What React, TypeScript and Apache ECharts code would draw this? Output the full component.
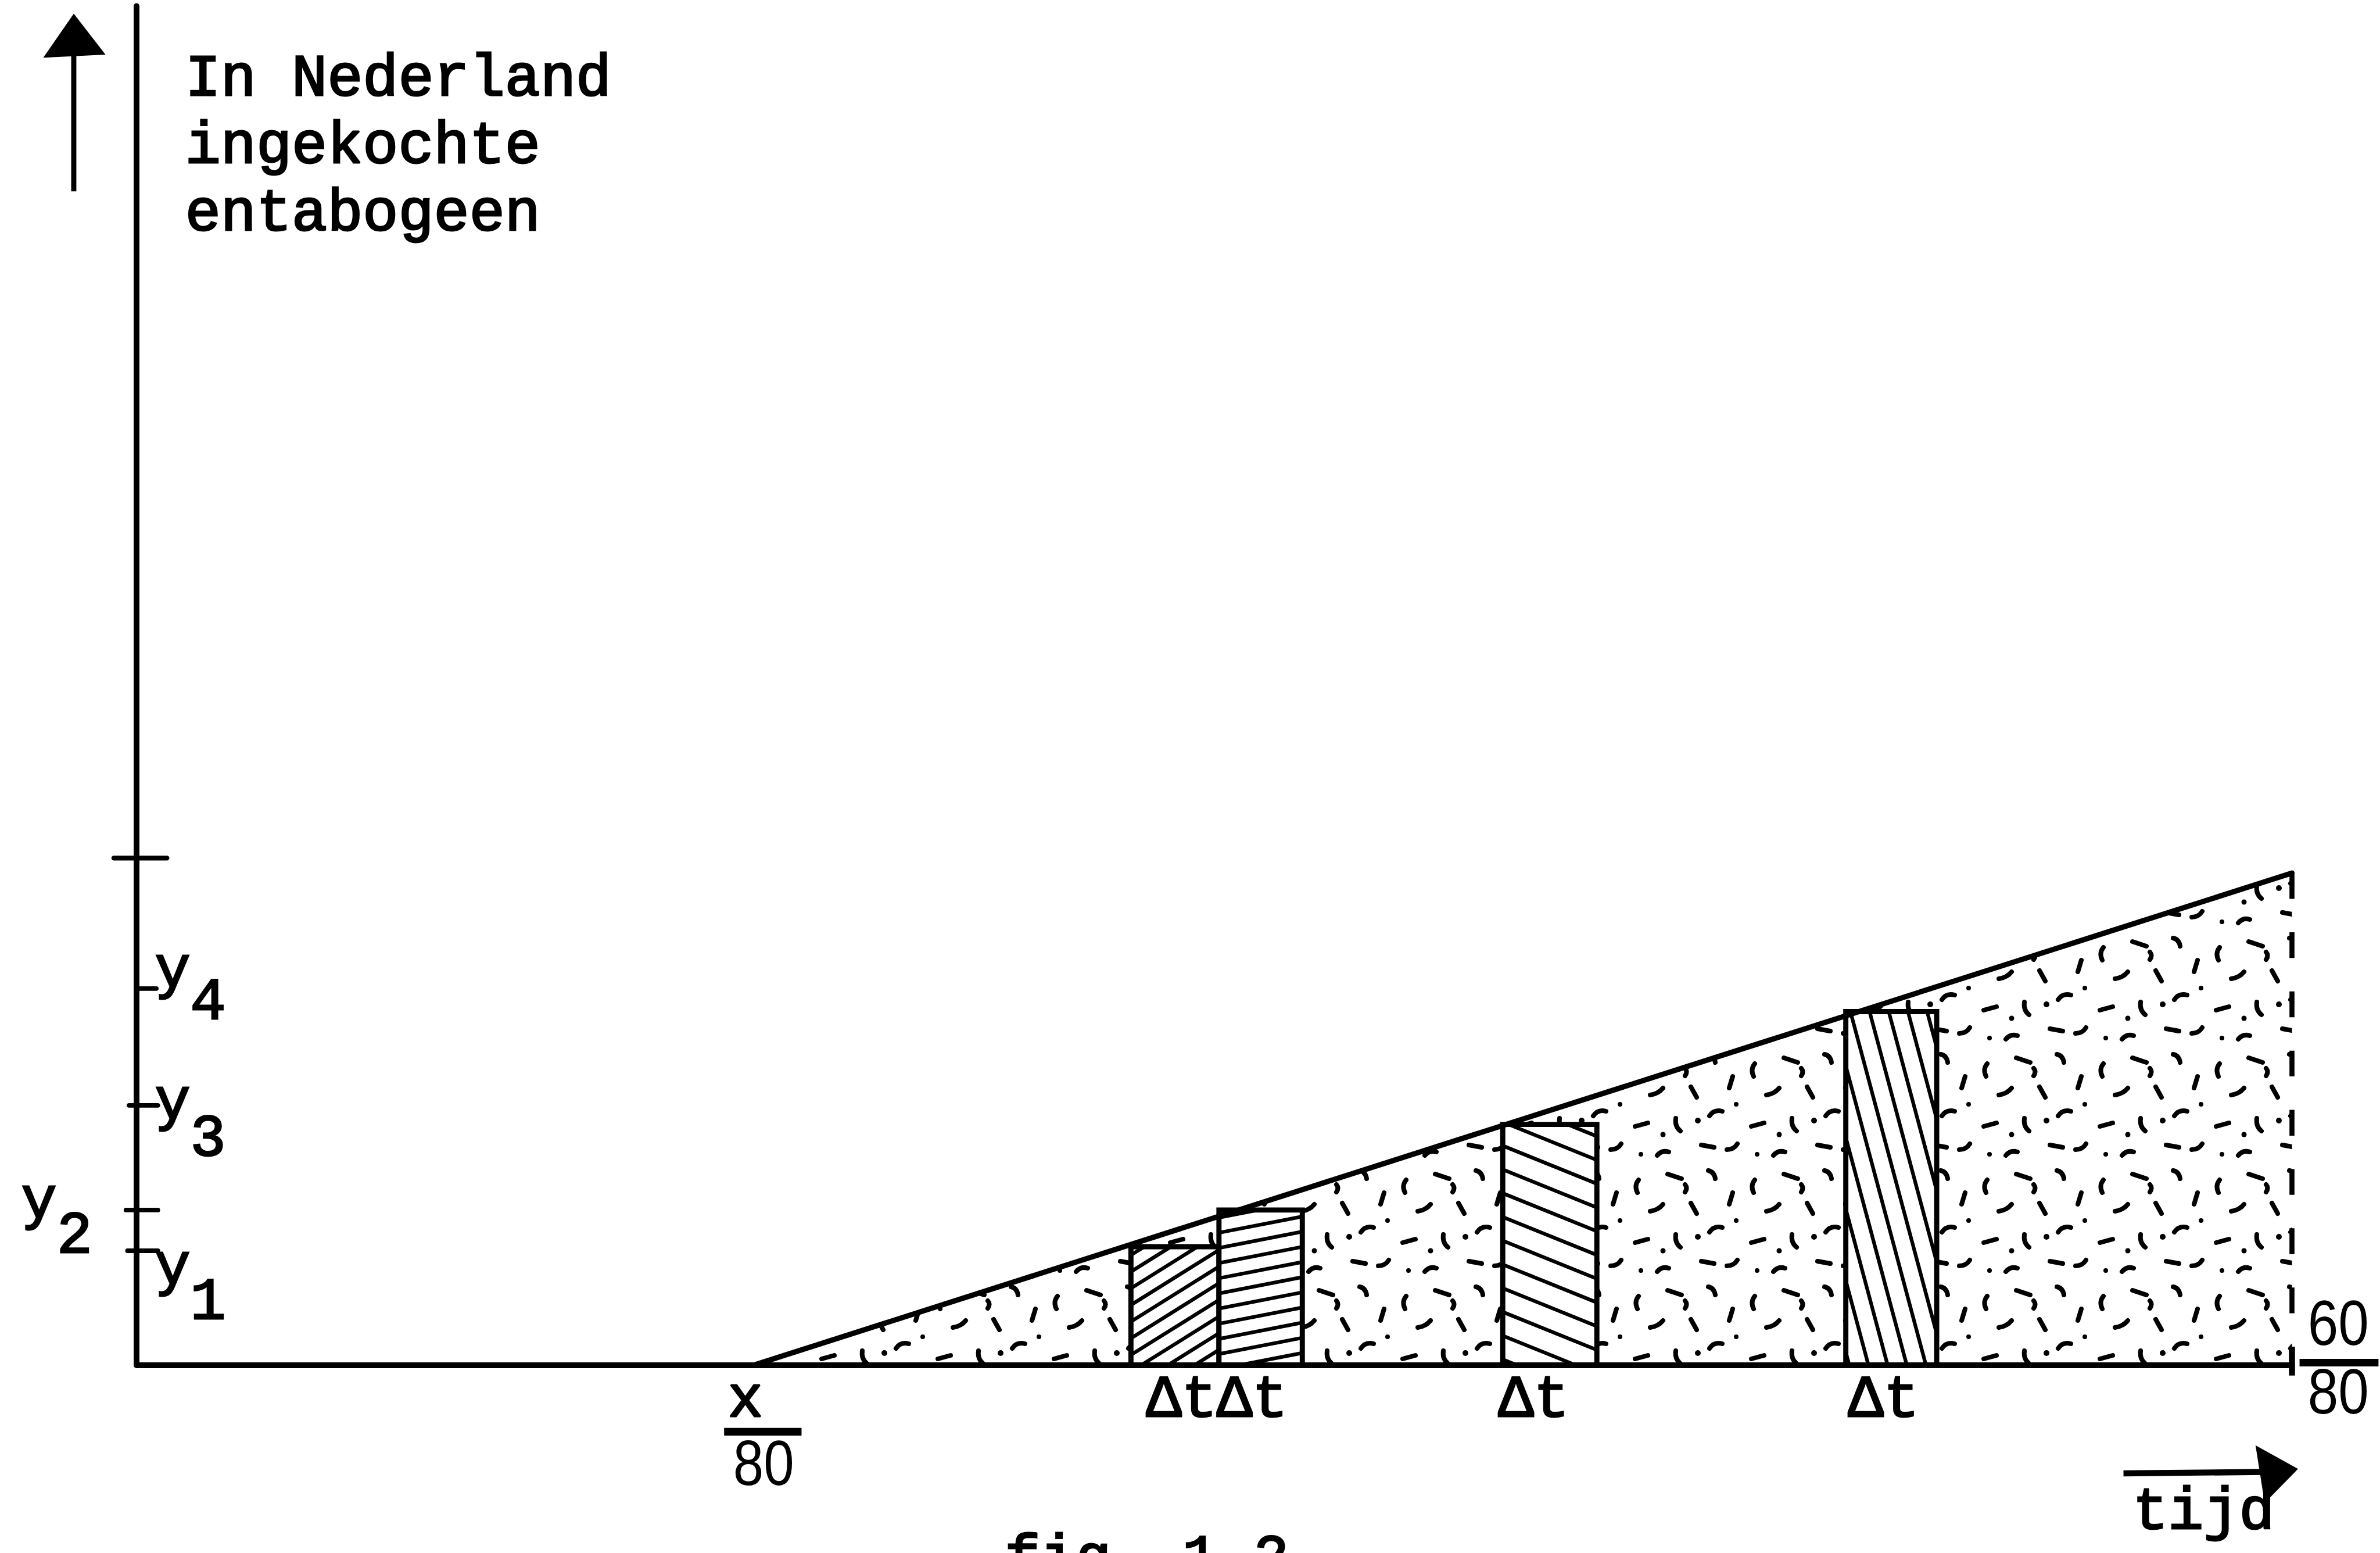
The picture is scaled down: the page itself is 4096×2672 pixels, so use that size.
import React, { useEffect, useRef } from 'react';
import * as echarts from 'echarts';

// Tijd in tachtigsten (0 .. 60/80), hoogte in vrije eenheden
const tijdMin = 0;
const tijdMax = 60;
const hoogteMin = 0;
const hoogteMax = 100;

// Rechte lijn van x/80 tot 60/80
const lijnTijd = [17.2, 60];
const lijnHoogte = [0, 36.2];

// Staafjes met breedte Δt onder de lijn
const staafBegin = [27.68, 30.13, 38.03, 47.58];
const staafEind = [30.13, 32.45, 40.65, 50.11];
const staafHoogte = [8.7, 11.4, 17.7, 26.0];
const staafLabel = ['Δt', 'Δt', 'Δt', 'Δt'];

// Streepjes y1..y4 op de verticale as en het bovenste streepje
const yNiveau = [8.4, 11.4, 19.1, 27.7];
const yIndex = ['1', '2', '3', '4'];
const bovensteNiveau = 37.3;

const asTitel = ['In Nederland', 'ingekochte', 'entabogeen'];
const beginBreuk = ['x', '80'];
const eindBreuk = ['60', '80'];
const tijdTekst = 'tijd';
const onderschrift = 'fig. 1.2';

// ---- opmaak ----
const W = 4096;
const H = 2672;
const U = W / 1568; // px per layout unit
const u = (v: number) => v * U;
const INK = '#000000';
const MONO = '"Liberation Mono", "DejaVu Sans Mono", monospace';
const SANS = '"Liberation Sans", "DejaVu Sans", sans-serif';
const TYPE_FS = u(39);
const TYPE_ADV = 23.4; // typewriter cell width in units
const DIGIT_FS = u(42);
const DIGIT_SQUEEZE = 0.86;
const AXIS_W = u(3.8);
const LINE_W = u(3.5);
const BAR_W = u(3.4);
const HATCH_W = u(2.4);

// arcering per staaf: hoek (graden, positief = stijgend) en afstand (units)
const arcering = [
  { hoek: 32, afstand: 9.3 },
  { hoek: 11, afstand: 9.8 },
  { hoek: -22, afstand: 14.5 },
  { hoek: -75, afstand: 12.2 },
];
const labelVerschuiving = [10, -1.5, -3, 1.5];
const yStreepLengte = [
  [-6, 14],
  [-7, 14],
  [-5, 14],
  [0, 13],
];
const yLabelPlaats = [
  { x: 12, yBase: 22, sBase: 45 },
  { x: -76, yBase: 5, sBase: 28 },
  { x: 12, yBase: 9, sBase: 33 },
  { x: 12, yBase: -1, sBase: 20 },
];

// stippels voor het driehoekige vlak
const TILE = 200;
const stippelStreepjes = [
  'M20 30q-8 10-2 22',
  'M70 20l24 8',
  'M140 14q10 2 12 14',
  'M182 52l-6 20',
  'M40 84q14-2 22-12',
  'M110 70l10 18',
  'M164 112q-14-4-22 8',
  'M14 138l22-6',
  'M84 124q-2 14 8 22',
  'M128 170l22 4',
  'M190 168q-6 10-18 10',
  'M52 188q8-10 20-6',
  'M100 38q5 6 0 13',
];
const stippelPunten = [
  [122, 128, 5],
  [62, 152, 4.5],
  [188, 100, 4],
  [24, 186, 4],
];
const tileSvg =
  `<svg xmlns="http://www.w3.org/2000/svg" width="${TILE}" height="${TILE}">` +
  `<g fill="none" stroke="#000" stroke-width="8" stroke-linecap="round">` +
  stippelStreepjes.map((d) => `<path d="${d}"/>`).join('') +
  `</g><g fill="#000">` +
  stippelPunten.map(([x, y, r]) => `<circle cx="${x}" cy="${y}" r="${r}"/>`).join('') +
  `</g></svg>`;
const stippelPatroon = {
  image: 'data:image/svg+xml;charset=utf-8,' + encodeURIComponent(tileSvg),
  repeat: 'repeat',
  imageWidth: TILE,
  imageHeight: TILE,
};

function typeText(text: string, x: number, baseline: number, align = 'left') {
  return {
    type: 'text',
    x,
    y: baseline,
    silent: true,
    style: {
      text,
      x: 0,
      y: -0.266 * TYPE_FS,
      font: `${TYPE_FS}px ${MONO}`,
      fill: INK,
      stroke: INK,
      lineWidth: 3,
      align,
      verticalAlign: 'middle',
      textAlign: align,
      textVerticalAlign: 'middle',
    },
  };
}

function digitText(text: string, cx: number, baseline: number) {
  return {
    type: 'text',
    x: cx,
    y: baseline,
    scaleX: DIGIT_SQUEEZE,
    silent: true,
    style: {
      text,
      x: 0,
      y: -0.347 * DIGIT_FS,
      font: `${DIGIT_FS}px ${SANS}`,
      fill: INK,
      align: 'center',
      verticalAlign: 'middle',
      textAlign: 'center',
      textVerticalAlign: 'middle',
    },
  };
}

function inkLine(x1: number, y1: number, x2: number, y2: number, w: number, cap = 'round') {
  return {
    type: 'line',
    silent: true,
    shape: { x1, y1, x2, y2 },
    style: { stroke: INK, lineWidth: w, lineCap: cap },
  };
}

// parallelle lijnen binnen een rechthoek
function hatchSegments(x0: number, y0: number, x1: number, y1: number, angleDeg: number, spacing: number) {
  const a = (angleDeg * Math.PI) / 180;
  const dx = Math.cos(a);
  const dy = -Math.sin(a);
  const nx = -dy;
  const ny = dx;
  const cs = [
    [x0, y0],
    [x1, y0],
    [x0, y1],
    [x1, y1],
  ].map(([px, py]) => px * nx + py * ny);
  const cMin = Math.min(...cs);
  const cMax = Math.max(...cs);
  const segs: number[][] = [];
  for (let c = cMin + spacing * 0.5; c < cMax; c += spacing) {
    const bx = nx * c;
    const by = ny * c;
    let t0 = -Infinity;
    let t1 = Infinity;
    let ok = true;
    const clip = (b: number, d: number, lo: number, hi: number) => {
      if (Math.abs(d) < 1e-9) {
        if (b < lo || b > hi) ok = false;
        return;
      }
      const ta = (lo - b) / d;
      const tb = (hi - b) / d;
      t0 = Math.max(t0, Math.min(ta, tb));
      t1 = Math.min(t1, Math.max(ta, tb));
    };
    clip(bx, dx, x0, x1);
    clip(by, dy, y0, y1);
    if (ok && t1 - t0 > 2) segs.push([bx + dx * t0, by + dy * t0, bx + dx * t1, by + dy * t1]);
  }
  return segs;
}

function buildOption() {
  const lijnData = lijnTijd.map((t, i) => [t, lijnHoogte[i]]);
  return {
    animation: false,
    backgroundColor: '#ffffff',
    grid: { left: u(90), top: u(4), width: u(1420), height: u(895), outerBoundsMode: 'none' },
    xAxis: {
      type: 'value',
      min: tijdMin,
      max: tijdMax,
      axisLine: { show: true, onZero: false, lineStyle: { color: INK, width: AXIS_W } },
      axisTick: { show: false },
      axisLabel: { show: false },
      splitLine: { show: false },
    },
    yAxis: {
      type: 'value',
      min: hoogteMin,
      max: hoogteMax,
      axisLine: { show: true, onZero: false, lineStyle: { color: INK, width: AXIS_W } },
      axisTick: { show: false },
      axisLabel: { show: false },
      splitLine: { show: false },
    },
    series: [
      {
        name: 'stippels',
        type: 'custom',
        silent: true,
        data: [[lijnTijd[0], lijnHoogte[0], lijnTijd[1], lijnHoogte[1]]],
        encode: { x: [0, 2], y: [1, 3] },
        renderItem: (params: any, api: any) => {
          const a = api.coord([api.value(0), api.value(1)]);
          const b = api.coord([api.value(2), api.value(3)]);
          const c = api.coord([api.value(2), 0]);
          return { type: 'polygon', shape: { points: [a, b, c] }, style: { fill: stippelPatroon } };
        },
      },
      {
        name: 'staven',
        type: 'custom',
        silent: true,
        data: staafBegin.map((b, i) => [b, staafEind[i], staafHoogte[i], i]),
        encode: { x: [0, 1], y: 2 },
        renderItem: (params: any, api: any) => {
          const i = api.value(3);
          const tl = api.coord([api.value(0), api.value(2)]);
          const br = api.coord([api.value(1), 0]);
          const x0 = tl[0];
          const y0 = tl[1];
          const x1 = br[0];
          const y1 = br[1];
          const h = arcering[i];
          const lines = hatchSegments(x0, y0, x1, y1, h.hoek, u(h.afstand)).map((s) =>
            inkLine(s[0], s[1], s[2], s[3], HATCH_W)
          );
          const shape = { x: x0, y: y0, width: x1 - x0, height: y1 - y0 };
          return {
            type: 'group',
            children: [
              { type: 'rect', shape, style: { fill: '#ffffff' } },
              ...lines,
              { type: 'rect', shape, style: { fill: 'none', stroke: INK, lineWidth: BAR_W } },
              typeText(staafLabel[i], x0 + u(labelVerschuiving[i]), y1 + u(34)),
            ],
          };
        },
      },
      {
        name: 'lijn',
        type: 'line',
        data: lijnData,
        symbol: 'none',
        silent: true,
        clip: false,
        z: 4,
        lineStyle: { color: INK, width: LINE_W, cap: 'round' },
      },
      {
        name: 'stippellijn',
        type: 'line',
        data: [
          [lijnTijd[1], lijnHoogte[1]],
          [lijnTijd[1], 0],
        ],
        symbol: 'none',
        silent: true,
        clip: false,
        z: 4,
        lineStyle: { color: INK, width: u(3.3), type: [u(17), u(22)] },
      },
      {
        name: 'y-streepjes',
        type: 'custom',
        silent: true,
        data: yNiveau.map((v, i) => [0, v, i]),
        encode: { x: 0, y: 1 },
        renderItem: (params: any, api: any) => {
          const i = api.value(2);
          const p = api.coord([0, api.value(1)]);
          const [l, r] = yStreepLengte[i];
          const pl = yLabelPlaats[i];
          return {
            type: 'group',
            children: [
              inkLine(p[0] + u(l), p[1], p[0] + u(r), p[1], u(3)),
              typeText('y', p[0] + u(pl.x), p[1] + u(pl.yBase)),
              typeText(yIndex[i], p[0] + u(pl.x + TYPE_ADV), p[1] + u(pl.sBase)),
            ],
          };
        },
      },
      {
        name: 'asmarkeringen',
        type: 'custom',
        silent: true,
        data: [[0, 0]],
        renderItem: (params: any, api: any) => {
          const top = api.coord([0, bovensteNiveau]);
          const s = api.coord([lijnTijd[0], 0]);
          const e = api.coord([lijnTijd[1], 0]);
          return {
            type: 'group',
            children: [
              inkLine(top[0] - u(15), top[1], top[0] + u(20), top[1], u(3.2)),
              inkLine(e[0], e[1] - u(12), e[0], e[1] + u(7), u(4), 'butt'),
              // x/80
              typeText(beginBreuk[0], s[0] - u(6), s[1] + u(34), 'center'),
              inkLine(s[0] - u(20), s[1] + u(44), s[0] + u(31), s[1] + u(44), u(5), 'butt'),
              digitText(beginBreuk[1], s[0] + u(6), s[1] + u(79)),
              // 60/80
              digitText(eindBreuk[0], e[0] + u(30.5), e[1] - u(13)),
              inkLine(e[0] + u(5), e[1] - u(1.5), e[0] + u(57), e[1] - u(1.5), u(5), 'butt'),
              digitText(eindBreuk[1], e[0] + u(30.5), e[1] + u(32)),
            ],
          };
        },
      },
    ],
    graphic: [
      inkLine(u(48.6), u(34), u(48.6), u(126), u(3.4), 'butt'),
      {
        type: 'polygon',
        silent: true,
        shape: {
          points: [
            [u(48.6), u(9)],
            [u(28.5), u(38)],
            [u(69.5), u(36)],
          ],
        },
        style: { fill: INK },
      },
      ...asTitel.map((t, i) => typeText(t, u(122), u(62.7 + i * 44.4))),
      inkLine(u(1399), u(970.4), u(1492), u(969.5), u(4), 'butt'),
      {
        type: 'polygon',
        silent: true,
        shape: {
          points: [
            [u(1486), u(952)],
            [u(1514), u(967.5)],
            [u(1492), u(990)],
          ],
        },
        style: { fill: INK },
      },
      typeText(tijdTekst, u(1405), u(1007)),
      typeText(onderschrift, u(662), u(1038)),
    ],
  };
}

export default function App() {
  const ref = useRef<HTMLDivElement>(null);
  useEffect(() => {
    const el = ref.current;
    if (!el) return;
    const chart = echarts.init(el, null, { renderer: 'svg', width: W, height: H });
    chart.setOption(buildOption() as any);
    return () => chart.dispose();
  }, []);
  return (
    <div
      ref={ref}
      style={{ position: 'fixed', left: 0, top: 0, width: W, height: H, background: '#ffffff' }}
    />
  );
}
